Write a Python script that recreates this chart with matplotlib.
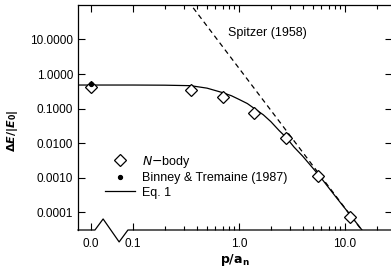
import numpy as np
import matplotlib
matplotlib.use("Agg")
import matplotlib.pyplot as plt
from matplotlib.lines import Line2D
from matplotlib.ticker import FixedLocator, NullFormatter

plt.rcParams['font.family'] = ['Liberation Sans', 'DejaVu Sans']
plt.rcParams['mathtext.fontset'] = 'dejavusans'

# N-body points (p/a_n = 0 sits on the broken-axis "0.0" tick)
p_nbody = np.array([0.0, 0.35, 0.7, 1.4, 2.8, 5.6, 11.2])
dE_nbody = np.array([0.42, 0.345, 0.215, 0.075, 0.0140, 0.00112, 7.4e-5])

# Binney & Tremaine (1987) value at p = 0
p_bt = np.array([0.0])
dE_bt = np.array([0.50])

# Eq. 1 curve
p_eq1 = np.array([0.03, 0.1, 0.2, 0.35, 0.5, 0.7, 0.85, 1.0, 1.2, 1.4, 1.7,
                  2.0, 2.4, 2.8, 3.3, 4.0, 5.8, 8.0, 11.6, 15.0])
dE_eq1 = np.array([0.48, 0.48, 0.475, 0.46, 0.39, 0.29, 0.235, 0.185, 0.14, 0.10,
                   0.066, 0.042, 0.023, 0.0145, 0.0078, 0.0042, 0.0011,
                   0.00031, 7.4e-5, 2.7e-5])

# Spitzer (1958) power law, two end points
p_spitzer = np.array([0.33, 15.0])
dE_spitzer = np.array([130.0, 2.6e-5])

ytick_vals = [1e-4, 1e-3, 1e-2, 1e-1, 1, 10]
ytick_labels = ["0.0001", "0.0010", "0.0100", "0.1000", "1.0000", "10.0000"]
xtick_vals = [0.04, 0.1, 1.0, 10.0]
xtick_labels = ["0.0", "0.1", "1.0", "10.0"]
ZERO_POS = 0.04


def xpos(p):
    return np.where(p == 0, ZERO_POS, p)


fig = plt.figure(figsize=(3.91, 2.67), dpi=100)
ax = fig.add_axes([78 / 391, 37 / 267, 314 / 391, 225 / 267])
ax.set_xscale('log')
ax.set_yscale('log')

ax.plot(p_spitzer, dE_spitzer, color='k', lw=0.9, ls=(0, (4, 3)))
ax.plot(p_eq1, dE_eq1, color='k', lw=0.9)
ax.plot(xpos(p_nbody), dE_nbody, ls='none', marker='D', ms=6, mfc='white',
        mec='k', mew=0.9)
ax.plot(xpos(p_bt), dE_bt, ls='none', marker='o', ms=2.8, color='k')

ax.set_xlim(0.0303, 27.8)
ax.set_ylim(3.1e-5, 98.7)

ax.yaxis.set_major_locator(FixedLocator(ytick_vals))
ax.set_yticklabels(ytick_labels)
ax.yaxis.set_minor_formatter(NullFormatter())
ax.yaxis.set_minor_locator(FixedLocator([]))

minors = [k * d for d in (0.1, 1, 10) for k in range(2, 10)]
minors = [m for m in minors if m < 27.8]
ax.xaxis.set_major_locator(FixedLocator(xtick_vals))
ax.set_xticklabels(xtick_labels)
ax.xaxis.set_minor_locator(FixedLocator(minors))
ax.xaxis.set_minor_formatter(NullFormatter())

ax.tick_params(which='both', direction='in', top=True, right=True,
               labelsize=8.5, width=0.8, color='k')
ax.tick_params(which='major', length=5)
ax.tick_params(which='minor', length=3)
ax.tick_params(axis='x', pad=6)
ax.tick_params(axis='y', pad=3.5)

for s in ax.spines.values():
    s.set_linewidth(0.9)
ax.spines['bottom'].set_visible(False)

# broken bottom axis with zigzag
bx = [0.0, 0.054, 0.080, 0.131, 0.159, 1.0]
by = [0.0, 0.0, 0.049, -0.053, 0.0, 0.0]
ax.add_line(Line2D(bx, by, transform=ax.transAxes, color='k', lw=0.9,
                   clip_on=False))

ax.text(0.787, 15.3, "Spitzer (1958)", fontsize=9, ha='left', va='center')

ax.set_xlabel(r'$\mathbf{p/a}_{\mathbf{n}}$', fontsize=9, labelpad=1)
ax.set_ylabel(r'$\mathbf{\Delta} \boldsymbol{E}\mathbf{/|}\boldsymbol{E}_{\mathbf{0}}\mathbf{|}$',
              fontsize=8)
ax.yaxis.set_label_coords(-0.185, 0.44)

handles = [
    Line2D([], [], ls='none', marker='D', ms=6, mfc='white', mec='k', mew=0.9),
    Line2D([], [], ls='none', marker='o', ms=2.8, color='k'),
    Line2D([], [], color='k', lw=0.9),
]
labels = [r'$N$$-$body', 'Binney & Tremaine (1987)', 'Eq. 1']
ax.legend(handles, labels, loc='upper left', bbox_to_anchor=(0.058, 0.378),
          frameon=False, fontsize=9, handlelength=2.4, handletextpad=0.55,
          labelspacing=0.2, borderpad=0.2)

fig.savefig("out.png", dpi=100)
